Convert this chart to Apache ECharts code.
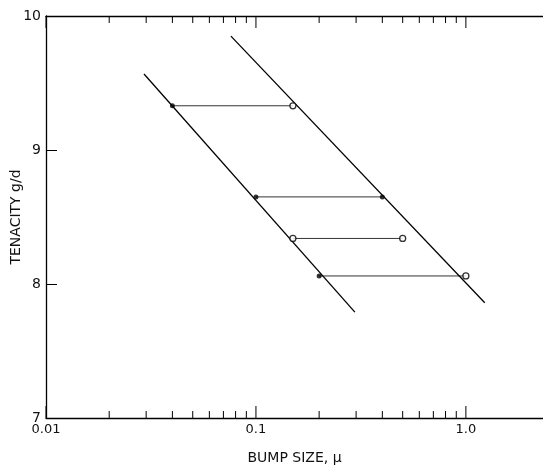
<!DOCTYPE html>
<html>
<head>
<meta charset="utf-8">
<script src="https://cdn.jsdelivr.net/npm/echarts@6/dist/echarts.min.js"></script>
<style>html,body{margin:0;padding:0;background:#fff}#c{width:543px;height:465px}</style>
</head>
<body>
<div id="c"></div>
<script>
// ---- data ----
const rowTenacity   = [9.33, 8.65, 8.34, 8.06];
const rowLeftSize   = [0.04, 0.10, 0.15, 0.20];
const rowRightSize  = [0.15, 0.40, 0.50, 1.00];
const filledLeft    = [0, 1, 3];      // indices of rows whose left point is filled
const filledRight   = [1];            // indices of rows whose right point is filled
const lineA = [[0.0293, 9.567], [0.296, 7.79]];
const lineB = [[0.076, 9.85], [1.23, 7.86]];
const xMajorTicks = [0.01, 0.1, 1];
const xMajorLabels = ['0.01', '0.1', '1.0'];
const xMinorTicks = [0.02,0.03,0.04,0.05,0.06,0.07,0.08,0.09,0.2,0.3,0.4,0.5,0.6,0.7,0.8,0.9];
const yTicks = [7, 8, 9, 10];
const xMin = 0.01, xMax = 2.33;

const chart = echarts.init(document.getElementById('c'), null, {renderer: 'canvas'});
const font = 'DejaVu Sans';

const segSeries = rowTenacity.map((t, i) => ({
  type: 'line', xAxisIndex: 0, yAxisIndex: 0, symbol: 'none', silent: true,
  lineStyle: {color: '#333', width: 1},
  data: [[rowLeftSize[i], t], [rowRightSize[i], t]], z: 2
}));

const filledPts = [], openPts = [];
rowTenacity.forEach((t, i) => {
  (filledLeft.includes(i) ? filledPts : openPts).push([rowLeftSize[i], t]);
  (filledRight.includes(i) ? filledPts : openPts).push([rowRightSize[i], t]);
});

function tickSeries(values, len) {
  return {
    type: 'custom', xAxisIndex: 0, yAxisIndex: 0, silent: true, clip: false,
    data: values.map(v => [v]),
    renderItem: (params, api) => {
      const x = api.value(0);
      const b = api.coord([x, 7]);
      const t = api.coord([x, 10]);
      const st = {stroke: '#000', lineWidth: 1};
      return {type: 'group', children: [
        {type: 'line', shape: {x1: b[0], y1: b[1], x2: b[0], y2: b[1] - len}, style: st},
        {type: 'line', shape: {x1: t[0], y1: t[1], x2: t[0], y2: t[1] + len}, style: st}
      ]};
    }
  };
}

const option = {
  animation: false,
  backgroundColor: '#fff',
  grid: {left: 46, right: 0, top: 16, bottom: 47, containLabel: false, outerBoundsMode: 'none'},
  xAxis: [{
    type: 'log', min: xMin, max: xMax, position: 'bottom',
    axisLine: {show: true, lineStyle: {color: '#000', width: 1.3}},
    axisTick: {show: false}, splitLine: {show: false}, minorTick: {show: false},
    axisLabel: {
      color: '#111', fontFamily: font, fontSize: 13, margin: 5, showMaxLabel: false,
      formatter: v => {
        for (let i = 0; i < xMajorTicks.length; i++) {
          if (Math.abs(Math.log10(v) - Math.log10(xMajorTicks[i])) < 1e-6) return xMajorLabels[i];
        }
        return '';
      }
    },
    name: 'BUMP SIZE, \u03bc', nameLocation: 'middle', nameGap: 33, nameMoveOverlap: false,
    nameTextStyle: {color: '#111', fontFamily: font, fontSize: 14}
  }, {
    type: 'log', min: xMin, max: xMax, position: 'top',
    axisLine: {show: true, lineStyle: {color: '#000', width: 1.3}},
    axisTick: {show: false}, axisLabel: {show: false}, splitLine: {show: false}
  }],
  yAxis: {
    type: 'value', min: 7, max: 10, interval: 1,
    axisLine: {show: true, lineStyle: {color: '#000', width: 1.3}},
    axisTick: {show: true, inside: true, length: 11, lineStyle: {color: '#000'}},
    splitLine: {show: false},
    axisLabel: {color: '#111', fontFamily: font, fontSize: 14, margin: 5,
      formatter: v => yTicks.includes(v) ? String(v) : ''},
    name: 'TENACITY g/d', nameLocation: 'middle', nameGap: 23, nameMoveOverlap: false,
    nameTextStyle: {color: '#111', fontFamily: font, fontSize: 14}
  },
  series: [
    {type: 'line', symbol: 'none', silent: true, data: lineA, lineStyle: {color: '#000', width: 1.3}, z: 3},
    {type: 'line', symbol: 'none', silent: true, data: lineB, lineStyle: {color: '#000', width: 1.3}, z: 3},
    ...segSeries,
    {type: 'scatter', data: filledPts, symbol: 'circle', symbolSize: 5, itemStyle: {color: '#000'}, z: 5, silent: true},
    {type: 'scatter', data: openPts, symbol: 'circle', symbolSize: 6, itemStyle: {color: '#fff', borderColor: '#000', borderWidth: 1.3}, z: 5, silent: true},
    tickSeries(xMajorTicks, 12),
    tickSeries(xMinorTicks, 7)
  ]
};
chart.setOption(option);
</script>
</body>
</html>
